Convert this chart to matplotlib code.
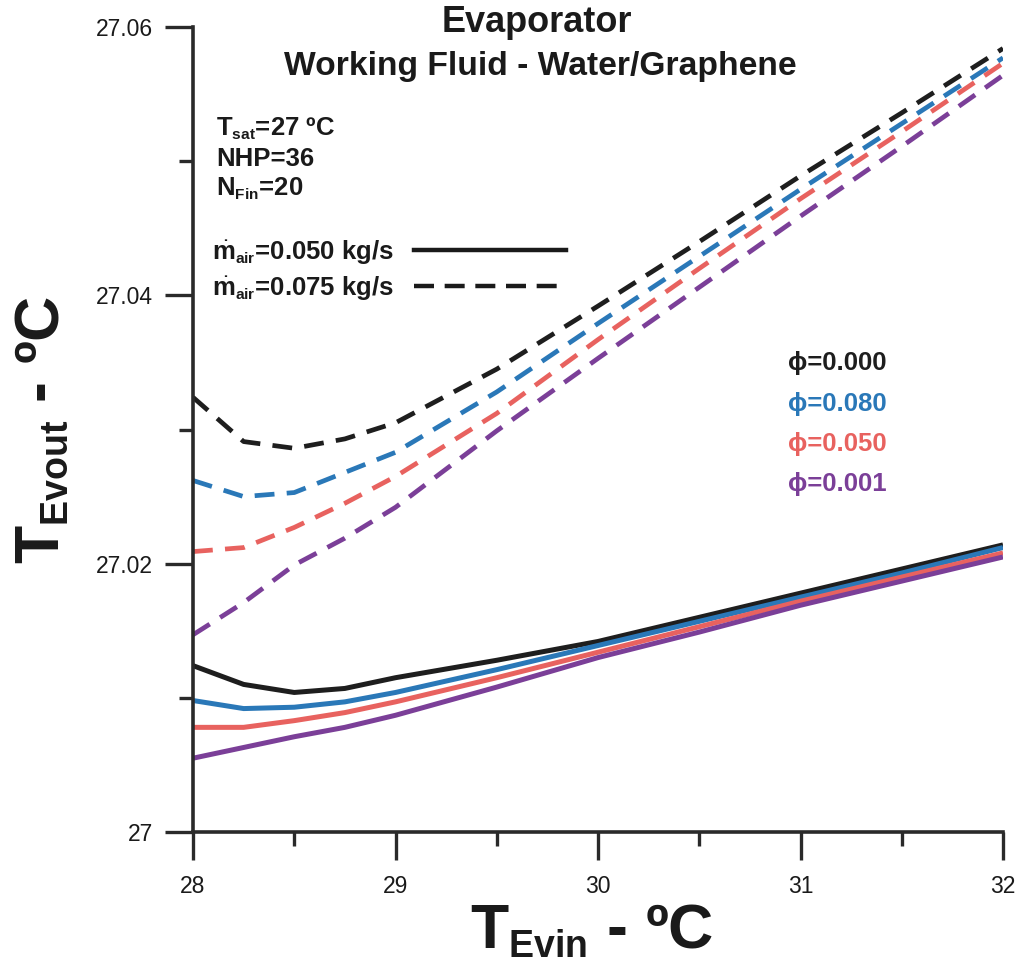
import matplotlib
matplotlib.use("Agg")
import matplotlib.pyplot as plt
import matplotlib._mathtext as _mt
from matplotlib.lines import Line2D
from matplotlib.ticker import MultipleLocator

_mt.SHRINK_FACTOR = 0.6

plt.rcParams['font.family'] = ['Liberation Sans', 'DejaVu Sans']
plt.rcParams['mathtext.fontset'] = 'custom'
plt.rcParams['mathtext.rm'] = 'Liberation Sans'
plt.rcParams['mathtext.bf'] = 'Liberation Sans:bold'
plt.rcParams['mathtext.it'] = 'Liberation Sans:italic'

# ---------------- data ----------------
t_evin = [28, 28.25, 28.5, 28.75, 29, 29.5, 30, 30.5, 31, 31.5, 32]

phi_labels = ['ϕ=0.000', 'ϕ=0.080', 'ϕ=0.050', 'ϕ=0.001']
colors = ['#1e1e1e', '#2a78b8', '#e8625f', '#7b3f98']

# m_air = 0.050 kg/s (solid)
m050_phi000 = [27.0124, 27.0110, 27.0104, 27.0107, 27.0115, 27.0128, 27.0142, 27.0160, 27.0178, 27.0196, 27.0214]
m050_phi080 = [27.0098, 27.0092, 27.0093, 27.0097, 27.0104, 27.0121, 27.0139, 27.0157, 27.0175, 27.0193, 27.0212]
m050_phi050 = [27.0078, 27.0078, 27.0083, 27.0089, 27.0097, 27.0115, 27.0134, 27.0153, 27.0172, 27.0190, 27.0208]
m050_phi001 = [27.0055, 27.0063, 27.0071, 27.0078, 27.0087, 27.0108, 27.0130, 27.0149, 27.0169, 27.0187, 27.0205]

# m_air = 0.075 kg/s (dashed)
m075_phi000 = [27.0324, 27.0291, 27.0286, 27.0293, 27.0305, 27.0345, 27.0392, 27.0440, 27.0489, 27.0536, 27.0584]
m075_phi080 = [27.0262, 27.0250, 27.0253, 27.0268, 27.0283, 27.0328, 27.0379, 27.0429, 27.0479, 27.0528, 27.0577]
m075_phi050 = [27.0209, 27.0212, 27.0227, 27.0245, 27.0265, 27.0312, 27.0367, 27.0420, 27.0472, 27.0522, 27.0573]
m075_phi001 = [27.0147, 27.0171, 27.0199, 27.0219, 27.0242, 27.0299, 27.0353, 27.0406, 27.0459, 27.0511, 27.0564]

solid_series = [m050_phi000, m050_phi080, m050_phi050, m050_phi001]
dashed_series = [m075_phi000, m075_phi080, m075_phi050, m075_phi001]

x_ticks = [28, 29, 30, 31, 32]
y_ticks = [27.0, 27.02, 27.04, 27.06]
y_tick_labels = ['27', '27.02', '27.04', '27.06']

# ---------------- figure ----------------
W, H = 1021, 967
fig = plt.figure(figsize=(W / 100, H / 100), dpi=100)
ax = fig.add_axes([193 / W, 1 - 832 / H, (1003 - 193) / W, (832 - 27) / H])

dash = (0, (4.2, 2.6))
for ys, c in zip(dashed_series, colors):
    ax.plot(t_evin, ys, color=c, lw=3.4, linestyle=dash, solid_capstyle='butt')
for ys, c in zip(solid_series, colors):
    ax.plot(t_evin, ys, color=c, lw=3.6, solid_capstyle='butt')

ax.set_xlim(28, 32)
ax.set_ylim(27.0, 27.06)
ax.set_xticks(x_ticks)
ax.set_xticklabels([str(v) for v in x_ticks])
ax.set_yticks(y_ticks)
ax.set_yticklabels(y_tick_labels)
ax.xaxis.set_minor_locator(MultipleLocator(0.5))
ax.yaxis.set_minor_locator(MultipleLocator(0.01))

for s in ['top', 'right']:
    ax.spines[s].set_visible(False)
for s in ['left', 'bottom']:
    ax.spines[s].set_linewidth(2.6)
    ax.spines[s].set_color('#2a2a2a')
    ax.spines[s].set_capstyle('projecting')

ax.tick_params(axis='both', which='major', direction='out', length=20, width=2.4,
               color='#2a2a2a', labelsize=16.5, labelcolor='#1a1a1a')
ax.tick_params(axis='both', which='minor', direction='out', length=10, width=2.4,
               color='#2a2a2a')
ax.tick_params(axis='x', which='major', pad=11)
ax.tick_params(axis='y', which='major', pad=9)

# axis labels
ax.set_xlabel(r'$\mathbf{T}_{\mathbf{Evin}}$ - ºC', fontsize=45, fontweight='bold', color='#1a1a1a')
ax.xaxis.set_label_coords((592 - 193) / 810, (832 - 902) / 805)
ax.set_ylabel(r'$\mathbf{T}_{\mathbf{Evout}}$ - ºC', fontsize=45, fontweight='bold', color='#1a1a1a')
ax.yaxis.set_label_coords((72 - 193) / 810, 0.5)

# titles
fig.text(537 / W, 1 - 22 / H, 'Evaporator', ha='center', va='center',
         fontsize=26, fontweight='bold', color='#1a1a1a')
fig.text(540 / W, 1 - 66 / H, 'Working Fluid - Water/Graphene', ha='center', va='center',
         fontsize=24.2, fontweight='bold', color='#1a1a1a')

# parameters
params = [r'T$_{\mathbf{sat}}$=27 ºC', 'NHP=36', r'N$_{\mathbf{Fin}}$=20']
for i, p in enumerate(params):
    fig.text(216 / W, 1 - (129 + 30 * i) / H, p, ha='left', va='center',
             fontsize=18.5, fontweight='bold', color='#1a1a1a')

# m_air legend (text then line)
handles = [Line2D([], [], color='#1a1a1a', lw=3.2, linestyle='-'),
           Line2D([], [], color='#1a1a1a', lw=3.2, linestyle=(0, (4.5, 2.4)))]
leg_labels = [r'$\dot{\mathbf{m}}_{\mathbf{air}}$=0.050 kg/s',
              r'$\dot{\mathbf{m}}_{\mathbf{air}}$=0.075 kg/s']
leg = fig.legend(handles, leg_labels, loc='upper left',
                 bbox_to_anchor=(212 / W, 1 - 238 / H), bbox_transform=fig.transFigure,
                 frameon=False, markerfirst=False, handlelength=5.9, handletextpad=0.8,
                 labelspacing=0.3, borderpad=0, borderaxespad=0,
                 prop={'size': 18.5, 'weight': 'bold'})
for t in leg.get_texts():
    t.set_color('#1a1a1a')

# phi labels
for i, (lab, c) in enumerate(zip(phi_labels, colors)):
    fig.text(788 / W, 1 - (363 + 40.5 * i) / H, lab, ha='left', va='center',
             fontsize=18.5, fontweight='bold', color=c)

fig.savefig('out.png', dpi=100)
